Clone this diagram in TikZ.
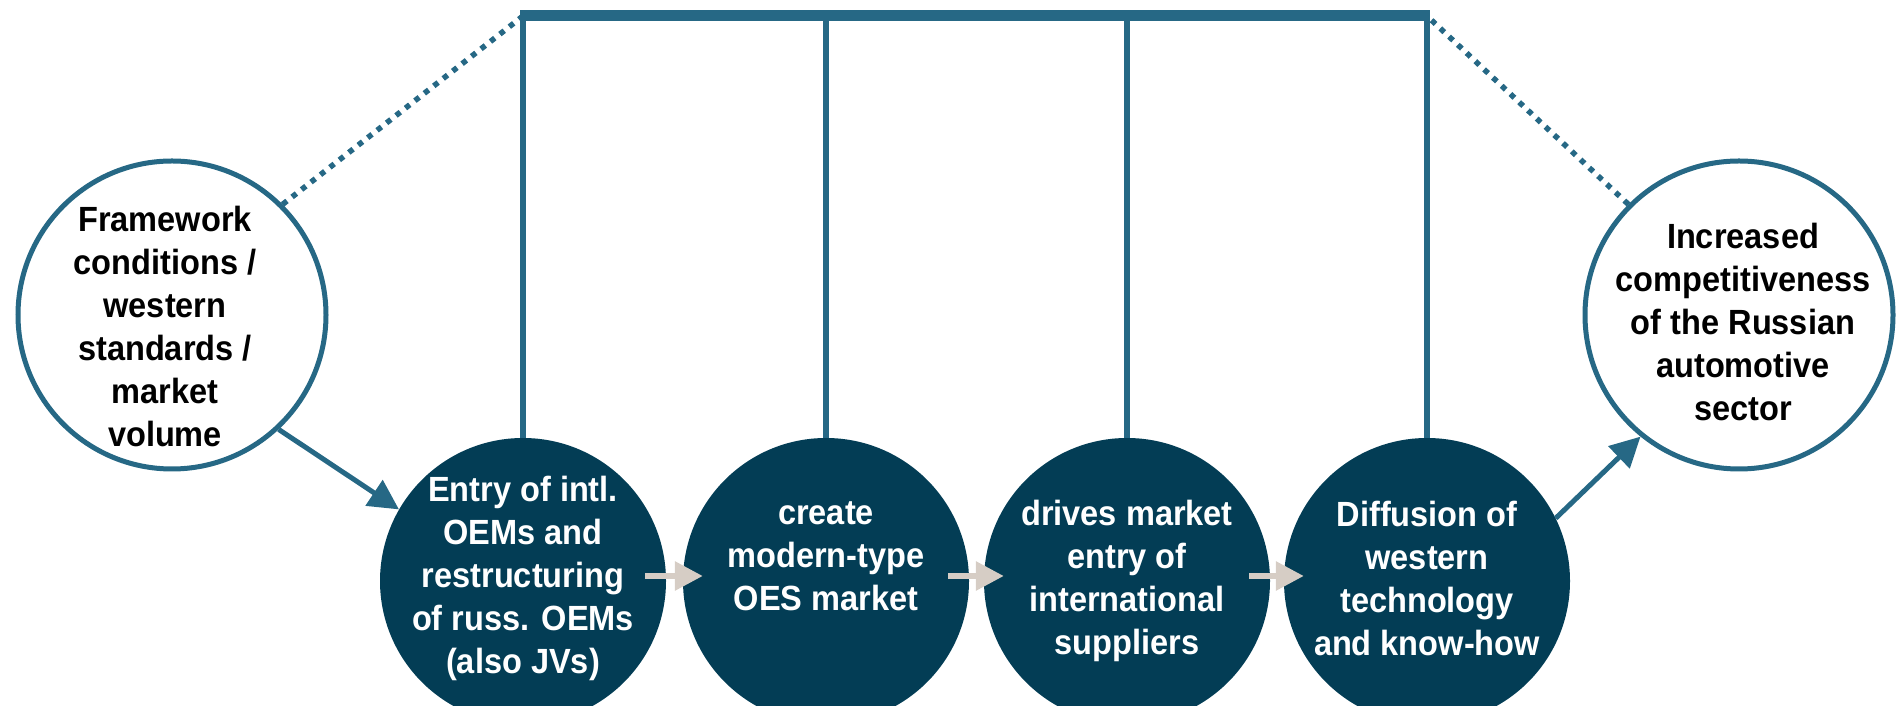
\documentclass[tikz,border=0pt]{standalone}
\usepackage{fontspec}
\setmainfont{Liberation Sans}[FakeStretch=0.93]
\usetikzlibrary{arrows.meta}
\definecolor{linkblue}{RGB}{38,104,133}
\definecolor{darkteal}{RGB}{3,61,85}
\definecolor{arrowgray}{RGB}{214,205,197}
\begin{document}
\begin{tikzpicture}[x=1pt,y=1pt,
        outer/.style={circle,draw=linkblue,line width=5pt,fill=white,minimum size=308pt,inner sep=0pt},
        inner/.style={circle,fill=darkteal,minimum size=286pt,inner sep=0pt},
        txt/.style={align=center,font=\bfseries\fontsize{35}{43}\selectfont},
        link/.style={draw=linkblue,line width=6pt},
        dotlink/.style={draw=linkblue,line width=5.5pt,dash pattern=on 5.5pt off 6.5pt},
        bluearrow/.style={draw=linkblue,line width=5pt,-{Triangle[length=30pt,width=30pt]}},
        grayarrow/.style={draw=arrowgray,line width=6pt,-{Triangle[length=28pt,width=28pt]}}]
                \useasboundingbox (0,0) rectangle (1896,706);

                \node[outer] (fw) at (172,391) {};
                \node[outer] (res) at (1739,391) {};
                \node[inner] (dc1) at (523,125) {};
                \node[inner] (dc2) at (826,125) {};
                \node[inner] (dc3) at (1127,125) {};
                \node[inner] (dc4) at (1427,125) {};

                \coordinate (bar) at (0,690);
                \coordinate (b1) at (dc1.north |- bar);
                \coordinate (b2) at (dc2.north |- bar);
                \coordinate (b3) at (dc3.north |- bar);
                \coordinate (b4) at (dc4.north |- bar);

                \draw[link] (dc1.north) -- (b1);
                \draw[link] (dc2.north) -- (b2);
                \draw[link] (dc3.north) -- (b3);
                \draw[link] (dc4.north) -- (b4);
                \draw[link,line width=11pt] ([xshift=-3pt]b1) -- ([xshift=3pt]b4);

                \draw[dotlink] (fw.45) -- (b1);
                \draw[dotlink] (res.135) -- (b4);

                \draw[bluearrow] (fw.-47) -- (dc1.150);
                \draw[bluearrow] (dc4.26) -- (res.231);

                \draw[grayarrow] ([shift={(-21,5)}]dc1.east) -- ([shift={(20,5)}]dc2.west);
                \draw[grayarrow] ([shift={(-21,5)}]dc2.east) -- ([shift={(20,5)}]dc3.west);
                \draw[grayarrow] ([shift={(-21,5)}]dc3.east) -- ([shift={(20,5)}]dc4.west);

                \node[txt] at ([shift={(-7,-11.5)}]fw.center) {Framework\\conditions /\\western\\standards /\\market\\volume};
                \node[txt] at ([shift={(4,-7)}]res.center) {Increased\\competitiveness\\of the Russian\\automotive\\sector};
                \node[txt,text=white] at ([yshift=2.5]dc1.center) {Entry of intl.\\OEMs and\\restructuring\\of russ. OEMs\\(also JVs)};
                \node[txt,text=white] at ([yshift=25]dc2.center) {create\\modern-type\\OES market};
                \node[txt,text=white] at ([yshift=0]dc3.center) {drives market\\entry of\\international\\suppliers};
                \node[txt,text=white] at ([yshift=2.5]dc4.center) {Diffusion of\\western\\technology\\and know-how};
            \end{tikzpicture}
\end{document}
